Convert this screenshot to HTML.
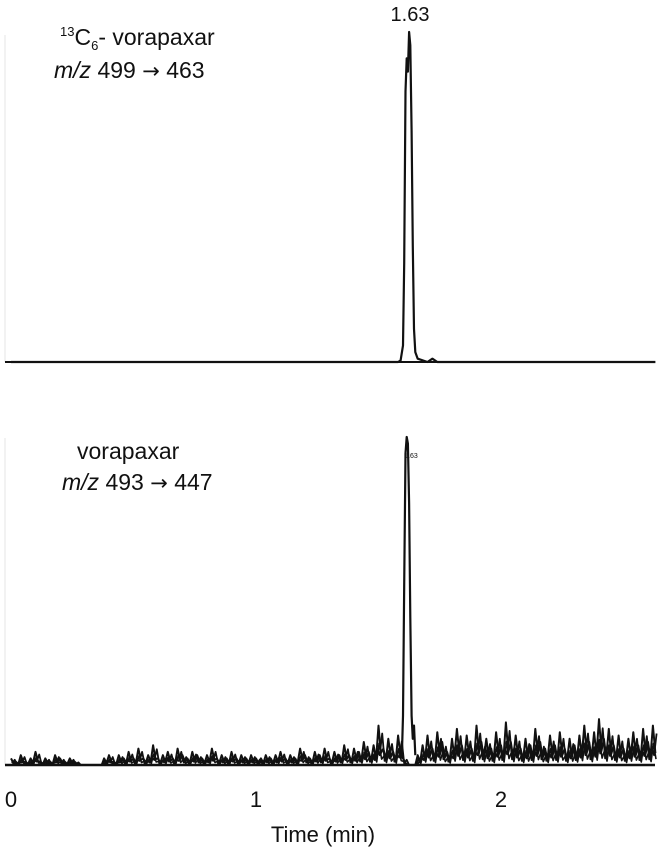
<!DOCTYPE html>
<html><head><meta charset="utf-8"><style>
html,body{margin:0;padding:0;background:#fff;}
svg{display:block;}
text{font-family:"Liberation Sans",sans-serif;fill:#111;}
</style></head><body>
<svg id="chart" width="660" height="850" viewBox="0 0 660 850">
<line x1="5" y1="35" x2="5" y2="362" stroke="#e4e4e4" stroke-width="1"/>
<line x1="5" y1="438" x2="5" y2="765" stroke="#e4e4e4" stroke-width="1"/>
<text x="410" y="21" font-size="20" text-anchor="middle">1.63</text>
<text x="60" y="45" font-size="23"><tspan font-size="13" dy="-9">13</tspan><tspan dy="9">C</tspan><tspan font-size="13" dy="5">6</tspan><tspan dy="-5">- vorapaxar</tspan></text>
<text x="54" y="78" font-size="23"><tspan font-style="italic">m/z</tspan> 499 <tspan font-family="DejaVu Sans" font-size="21">→</tspan> 463</text>
<text x="77" y="459" font-size="23">vorapaxar</text>
<text x="62" y="490" font-size="23"><tspan font-style="italic">m/z</tspan> 493 <tspan font-family="DejaVu Sans" font-size="21">→</tspan> 447</text>
<text x="411" y="458" font-size="7" fill="#555" text-anchor="middle">1.63</text>
<g id="xticks"></g>
<text x="323" y="842" font-size="22" text-anchor="middle">Time (min)</text>
<g id="series"></g>
</svg>
<script>
const tickValues=[0,1,2];
const tickLabels=["0","1","2"];
const topPeakTimes=[0,1.58,1.59,1.60,1.605,1.61,1.615,1.62,1.625,1.63,1.635,1.64,1.645,1.65,1.66,1.70,1.72,1.74,2.63];
const topPeakValues=[0,0,0.5,5,30,82,92,88,100,96,70,35,10,3,1,0,1,0,0];
const bottomPeakTimes=[1.595,1.60,1.605,1.61,1.615,1.62,1.625,1.63,1.635,1.64,1.645,1.65];
const bottomPeakValues=[2,15,55,95,100,98,80,45,15,8,12,3];
const noiseValues=[2,1,3,1,2,4,1,2,1,3,2,1,2,1,
0,0,0,0,0,
2,3,1,3,2,4,2,5,2,3,6,2,3,4,2,5,3,2,4,3,2,3,5,2,3,2,4,2,3,2,3,2,
2,3,2,3,4,2,3,2,5,3,2,4,3,5,2,4,3,6,3,5,4,7,4,6,12,
5,8,4,9,2,0,0,3,
6,9,5,10,7,4,8,11,6,9,5,12,7,8,5,10,6,13,7,9,5,8,6,11,7,5,9,6,10,5,8,6,9,12,7,10,14,8,11,6,9,5,8,10,6,11,7,12];
const noiseStep=0.02;

const NS="http://www.w3.org/2000/svg";
const xs=t=>11+t*245;
const yTop=v=>362-v*3.3;
const yBot=v=>765-v*3.28;
const series=document.getElementById('series');
const ticks=document.getElementById('xticks');

tickValues.forEach((v,i)=>{
  const t=document.createElementNS(NS,'text');
  t.setAttribute('x',xs(v));t.setAttribute('y',807);
  t.setAttribute('font-size','22');t.setAttribute('text-anchor','middle');
  t.textContent=tickLabels[i];
  
  
  ticks.appendChild(t);
});

function poly(pts,name,w){
  const p=document.createElementNS(NS,'polyline');
  p.setAttribute('points',pts.map(a=>a[0].toFixed(1)+','+a[1].toFixed(1)).join(' '));
  p.setAttribute('fill','none');p.setAttribute('stroke','#111');
  p.setAttribute('stroke-width',w);p.setAttribute('stroke-linejoin','round');
  
  
  series.appendChild(p);
}
poly(topPeakTimes.map((t,i)=>[xs(t),yTop(topPeakValues[i])]),'top-trace',2.2);
const npts=[];
noiseValues.forEach((v,i)=>{
  const t=i*noiseStep;
  npts.push([xs(t),yBot(v)]);
  npts.push([xs(t+noiseStep/2),yBot(v*0.3)]);
});
poly(npts,'bottom-noise-trace',2);
const npts2=[];
noiseValues.forEach((v,i)=>{
  const t=i*noiseStep+0.005;
  npts2.push([xs(t),yBot(v*0.25)]);
  npts2.push([xs(t+noiseStep/2),yBot(v*0.8)]);
});
poly(npts2,'bottom-noise-trace-2',1.8);
const npts3=[];
noiseValues.forEach((v,i)=>{
  const t=i*noiseStep+0.0025;
  npts3.push([xs(t),yBot(v*0.55)]);
  npts3.push([xs(t+noiseStep/2),yBot(v*0.15)]);
});
poly(npts3,'bottom-noise-trace-3',1.6);
poly(bottomPeakTimes.map((t,i)=>[xs(t),yBot(bottomPeakValues[i])]),'bottom-peak-trace',2.2);
const bl=document.createElementNS(NS,'line');
bl.setAttribute('x1',5);bl.setAttribute('x2',655);bl.setAttribute('y1',765);bl.setAttribute('y2',765);
bl.setAttribute('stroke','#111');bl.setAttribute('stroke-width','2.5');


series.appendChild(bl);
const tl=document.createElementNS(NS,'line');
tl.setAttribute('x1',5);tl.setAttribute('x2',655);tl.setAttribute('y1',362);tl.setAttribute('y2',362);
tl.setAttribute('stroke','#111');tl.setAttribute('stroke-width','2');


series.appendChild(tl);
</script>
</body></html>
